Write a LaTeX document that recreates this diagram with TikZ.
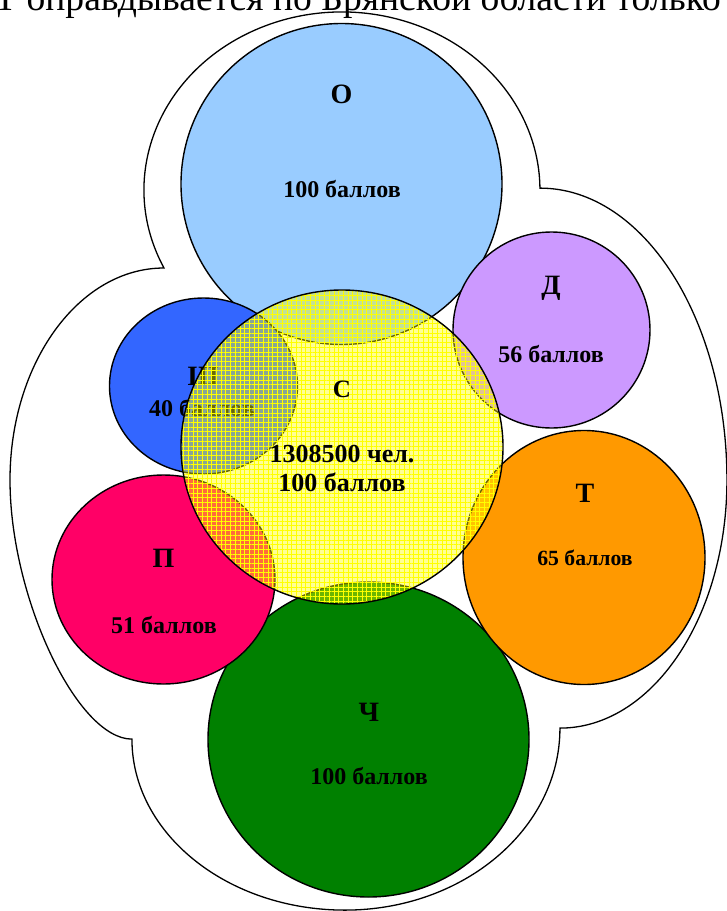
\documentclass[tikz,border=0pt]{standalone}
\usepackage{fontspec}
\setmainfont{Liberation Serif}
\usetikzlibrary{patterns.meta}
\definecolor{cO}{HTML}{99CCFF}
\definecolor{cD}{HTML}{CC99FF}
\definecolor{cT}{HTML}{FF9900}
\definecolor{cCh}{HTML}{008000}
\definecolor{cP}{HTML}{FF0066}
\definecolor{cSh}{HTML}{3366FF}
\definecolor{cS}{HTML}{FFFF00}
\begin{document}
\begin{tikzpicture}[x=1pt,y=-1pt,
  circ/.style={draw=black,line width=1.4pt},
  lbl/.style={font=\bfseries\fontsize{28}{30}\selectfont, inner sep=0pt},
  pts/.style={font=\bfseries\fontsize{24}{27}\selectfont, inner sep=0pt},
]
\useasboundingbox (0,0) rectangle (727,911);
\fill[white] (0,0) rectangle (727,911);
\node[anchor=base west, inner sep=0pt, font=\fontsize{37.6}{40}\selectfont] (title) at (-6,10) {Т оправдывается по Брянской области только};
% outer outline
\draw[line width=1.3pt] (164,268)
  arc[start angle=154, end angle=359.4, x radius=198, y radius=178]
  arc[start angle=-90, end angle=0, x radius=187, y radius=292]
  arc[start angle=0, end angle=90, x radius=167, y radius=248]
  arc[start angle=0, end angle=90, x radius=215, y radius=182]
  arc[start angle=90, end angle=180, x radius=213, y radius=171]
  .. controls (77,739) and (10,597) .. (10,480)
  arc[start angle=180, end angle=270, x radius=154, y radius=212]
  -- cycle;
% circles
\draw[circ, fill=cO] (341.5,184) ellipse [x radius=160.5, y radius=160.5];
\draw[circ, fill=cCh] (368.5,739.5) ellipse [x radius=160.5, y radius=157.5];
\draw[circ, fill=cD] (551.5,330) ellipse [x radius=98.5, y radius=98];
\draw[circ, fill=cT] (584,557.5) ellipse [x radius=121, y radius=127];
\draw[circ, fill=cP] (163.5,579.5) ellipse [x radius=111.5, y radius=104.5];
\draw[circ, fill=cSh] (203.5,386) ellipse [x radius=94, y radius=88];
% labels
\node[lbl] (lO) at (341.5,94) {О};
\node[pts] (pO) at (342,189) {100 баллов};
\node[lbl] (lD) at (551,288) {Д};
\node[pts] (pD) at (551,354) {56 баллов};
\node[lbl] (lT) at (585,493) {Т};
\node[pts, font=\bfseries\fontsize{21.7}{24}\selectfont] (pT) at (585,558) {65 баллов};
\node[lbl] (lSh) at (203,376) {Ш};
\node[pts] (pSh) at (202,408) {40 баллов};
\node[lbl] (lP) at (163.5,558) {П};
\node[pts] (pP) at (164,625) {51 баллов};
\node[lbl] (lCh) at (369,712) {Ч};
\node[pts] (pCh) at (369,776) {100 баллов};
% central circle
\fill[cS, fill opacity=0.42] (342,447) ellipse [x radius=161, y radius=157];
\fill[pattern={Hatch[angle=0,distance=4.7pt,line width=0.35pt]}, pattern color=cS, fill opacity=0.8] (342,447) ellipse [x radius=161, y radius=157];
\draw[circ] (342,447) ellipse [x radius=161, y radius=157];
\node[lbl, font=\bfseries\fontsize{25}{28}\selectfont] (lS) at (342,389) {С};
\node[pts, font=\bfseries\fontsize{26}{29}\selectfont, align=center] (pS) at (342,468) {1308500 чел.\\100 баллов};
\end{tikzpicture}
\end{document}
